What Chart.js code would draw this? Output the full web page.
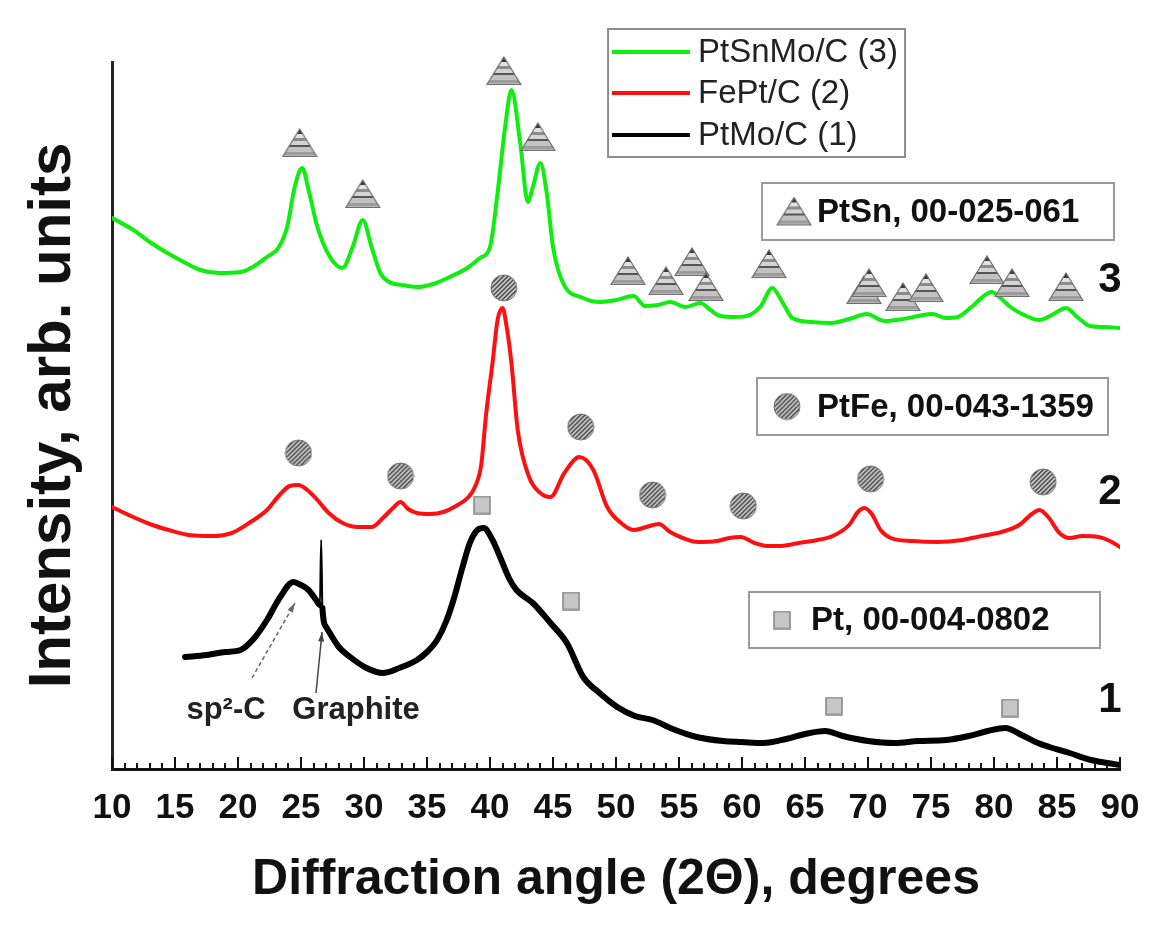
<!DOCTYPE html>
<html>
<head>
<meta charset="utf-8">
<script src="https://cdn.jsdelivr.net/npm/chart.js@4.4.1/dist/chart.umd.min.js"></script>
<style>
html,body{margin:0;padding:0;background:#fff;overflow:hidden}
#wrap{width:1168px;height:932px;position:relative}
</style>
</head>
<body>
<div id="wrap"><canvas id="chart"></canvas></div>
<script>
// ---------------- data ----------------
const X_TICKS = [10,15,20,25,30,35,40,45,50,55,60,65,70,75,80,85,90];
const X_TITLE = 'Diffraction angle (2\u0398), degrees';
const Y_TITLE = 'Intensity, arb. units';

const SERIES_NAMES = ['PtSnMo/C (3)', 'FePt/C (2)', 'PtMo/C (1)'];
const CURVE_TAGS = ['3', '2', '1'];
const PHASE_NAMES = ['PtSn, 00-025-061', 'PtFe, 00-043-1359', 'Pt, 00-004-0802'];
const NOTE_LABELS = ['sp\u00B2-C', 'Graphite'];

// curve 3 : PtSnMo/C
const ANGLE_3 = [10.0,11.7,13.0,14.4,15.7,17.0,18.5,20.2,21.3,22.3,23.2,23.9,24.5,25.1,25.6,26.3,27.3,28.3,29.1,29.9,30.6,31.3,32.0,33.0,34.2,35.5,36.8,38.2,39.2,40.0,40.6,41.2,41.7,42.4,43.0,43.4,44.0,44.5,45.0,45.8,47.4,48.7,50.0,51.4,52.3,53.3,54.3,55.5,56.7,57.5,58.3,59.5,60.6,61.5,62.4,63.2,64.0,65.5,67.1,68.5,69.9,71.3,72.8,74.0,75.1,76.2,77.1,78.3,79.8,80.6,81.3,82.4,83.6,84.6,85.7,86.7,87.6,88.8,90.0];
const INT_3 = [551,539,527,516,507,499,496,497,503,512,521,542,582,601,579,542,512,501,522,549,522,496,487,484,482,485,492,501,511,522,576,642,679,626,567,582,606,576,522,486,471,467,469,473,463,464,467,462,466,459,453,452,454,463,481,467,451,447,446,450,455,448,450,453,455,451,452,463,477,470,462,454,449,454,461,451,443,442,441];

// curve 2 : FePt/C
const ANGLE_2 = [10.0,11.5,13.0,14.5,16.1,18.0,19.5,21.0,22.3,23.3,24.1,24.8,25.5,26.3,27.2,28.3,29.5,30.6,31.5,32.3,32.9,33.5,34.2,35.3,36.3,37.3,38.3,38.8,39.3,39.7,40.2,40.6,41.0,41.3,41.7,42.2,43.1,44.0,44.8,45.9,47.1,48.2,49.3,50.4,51.4,52.4,53.4,54.3,55.3,56.5,58.0,59.0,59.9,61.0,62.0,63.0,64.5,66.0,67.2,68.5,69.2,69.7,70.3,71.0,71.8,73.5,75.5,77.5,79.0,80.6,82.0,83.0,83.6,84.3,85.2,86.0,87.0,88.3,89.2,90.0];
const INT_2 = [262,253,245,239,234,233,236,247,259,274,283,284,279,269,256,246,242,242,251,261,267,260,256,255,257,263,272,282,304,356,406,449,461,444,406,339,292,276,272,296,312,299,262,246,239,242,245,237,231,227,228,231,232,226,223,223,226,229,233,244,257,261,255,239,231,228,227,229,233,237,244,255,259,252,236,231,233,232,228,222];

// curve 1 : PtMo/C
const ANGLE_1 = [15.8,17.5,19.0,20.2,21.3,22.3,23.3,24.4,25.0,25.6,26.2,26.5,26.6,26.7,27.0,28.0,28.9,30.2,31.5,32.8,34.2,35.0,35.8,36.5,37.1,37.8,38.4,39.0,39.5,40.2,40.8,41.5,42.1,43.4,44.8,46.1,47.4,48.7,50.1,51.5,52.9,54.5,56.4,58.5,60.0,61.7,63.5,65.0,66.6,68.0,70.0,72.1,74.0,76.2,78.0,79.5,80.9,82.2,83.3,84.4,86.0,87.7,89.0,90.0];
const INT_1 = [112,114,117,119,131,149,171,187,184,179,169,164,229,161,142,122,112,101,96,101,109,117,129,147,169,201,226,239,241,229,212,191,179,166,146,126,92,76,62,53,49,40,32,28,27,26,30,35,38,33,28,26,28,29,33,38,41,34,27,22,16,9,6,4];
const GRAPHITE_ANGLE = 26.6;

// reference-pattern markers
const PTSN_ANGLE = [24.9,29.9,41.1,43.8,50.95,53.97,56.03,57.14,62.14,69.68,70.08,72.78,74.6,79.44,81.43,85.71];
const PTSN_INT   = [626,575,698,632,498,488,507,482,505,479,486,472,481,499,486,482];
const PTFE_ANGLE = [24.8,32.9,41.1,47.2,52.9,60.1,70.2,83.9];
const PTFE_INT   = [316,293,481,342,274,263,290,287];
const PT_ANGLE   = [39.37,46.43,67.3,81.27];
const PT_INT     = [264,168,63,61];

// ---------------- layout of overlay items (data coordinates) ----------------
const LEGEND_BOX = { x0: 49.37, x1: 72.94, yTop: 740, yBot: 612, lineX0: 49.68, lineX1: 55.87, textX: 56.51, rows: [717, 676, 634] };
const PHASE_BOXES = [
  { x0: 61.59, x1: 89.52, yTop: 586, yBot: 529, iconX: 64.13, textX: 65.95 },
  { x0: 61.19, x1: 89.05, yTop: 391, yBot: 334, iconX: 63.57, textX: 65.95 },
  { x0: 60.56, x1: 88.41, yTop: 177, yBot: 121, iconX: 63.17, textX: 65.48 }
];
const TAG_POS = [{ x: 89.2, y: 489 }, { x: 89.2, y: 277 }, { x: 89.2, y: 69 }];
const NOTES = [
  { from: [21.11, 91], to: [24.52, 166], dash: [4, 3], color: '#666', lx: 19.05, ly: 59 },
  { from: [26.19, 76], to: [26.67, 137], dash: [], color: '#444', lx: 29.37, ly: 59 }
];

// ---------------- marker glyphs ----------------
function makeTriangle(w, h) {
  const c = document.createElement('canvas'); c.width = w; c.height = h;
  const g = c.getContext('2d');
  g.beginPath(); g.moveTo(w / 2, 1); g.lineTo(w - 1, h - 1.5); g.lineTo(1, h - 1.5); g.closePath();
  const gr = g.createLinearGradient(0, 0, 0, h);
  [[0,'#3a3a3a'],[0.2,'#3a3a3a'],[0.2,'#e2e2e2'],[0.33,'#e2e2e2'],[0.33,'#8c8c8c'],[0.43,'#8c8c8c'],[0.43,'#d4d4d4'],[0.56,'#d4d4d4'],[0.56,'#555'],[0.63,'#555'],[0.63,'#c2c2c2'],[0.8,'#c2c2c2'],[0.8,'#9c9c9c'],[0.9,'#9c9c9c'],[0.9,'#b8b8b8'],[1,'#b8b8b8']]
    .forEach(([o, col]) => gr.addColorStop(o, col));
  g.fillStyle = gr; g.fill();
  g.strokeStyle = '#6e6e6e'; g.lineWidth = 1.2; g.stroke();
  return c;
}
function makeCircle(d) {
  const c = document.createElement('canvas'); c.width = d; c.height = d;
  const g = c.getContext('2d');
  g.beginPath(); g.arc(d / 2, d / 2, d / 2 - 1, 0, Math.PI * 2);
  g.fillStyle = '#474747'; g.fill();
  g.save(); g.clip();
  g.strokeStyle = '#cfcfcf'; g.lineWidth = 1.6;
  for (let k = -d; k < 2 * d; k += 4.5) { g.beginPath(); g.moveTo(k, d); g.lineTo(k + d, 0); g.stroke(); }
  g.restore();
  g.beginPath(); g.arc(d / 2, d / 2, d / 2 - 1, 0, Math.PI * 2);
  g.strokeStyle = '#777'; g.lineWidth = 1; g.stroke();
  return c;
}
function makeSquare(w, h) {
  const c = document.createElement('canvas'); c.width = w; c.height = h;
  const g = c.getContext('2d');
  g.fillStyle = '#c6c6c6'; g.fillRect(1, 1, w - 2, h - 2);
  g.strokeStyle = '#8a8a8a'; g.lineWidth = 1.6; g.strokeRect(1, 1, w - 2, h - 2);
  return c;
}
const TRI = makeTriangle(36, 30);
const CIR = makeCircle(28);
const SQR = makeSquare(18, 19);
const PHASE_ICONS = [TRI, CIR, SQR];

const pts = (xs, ys) => xs.map((v, i) => ({ x: v, y: ys[i] }));
const FONT = '"Liberation Sans", Arial, Helvetica, sans-serif';
Chart.defaults.font.family = FONT;

const SPIKE_INDEX = ANGLE_1.indexOf(GRAPHITE_ANGLE);

// ---------------- overlay plugin (inner ticks, legend, boxes, notes) ----------------
const overlayPlugin = {
  id: 'overlay',
  afterDraw(chart) {
    const { ctx, chartArea: ca, scales: { x, y } } = chart;
    const px = v => x.getPixelForValue(v), py = v => y.getPixelForValue(v);
    ctx.save();

    // inward minor/major ticks
    ctx.strokeStyle = '#111'; ctx.lineWidth = 2;
    for (let d = x.min; d <= x.max; d++) {
      const xx = Math.round(px(d));
      const len = d % 5 === 0 ? 12 : 6;
      ctx.beginPath(); ctx.moveTo(xx, ca.bottom); ctx.lineTo(xx, ca.bottom - len); ctx.stroke();
    }

    // legend
    const L = LEGEND_BOX;
    const lx0 = px(L.x0), lx1 = px(L.x1), ly0 = py(L.yTop), ly1 = py(L.yBot);
    ctx.fillStyle = '#fff'; ctx.fillRect(lx0, ly0, lx1 - lx0, ly1 - ly0);
    ctx.strokeStyle = '#8c8c8c'; ctx.lineWidth = 2; ctx.strokeRect(lx0, ly0, lx1 - lx0, ly1 - ly0);
    ctx.font = '33px ' + FONT; ctx.textBaseline = 'middle'; ctx.textAlign = 'left';
    chart.data.datasets.filter(d => d.isCurve).forEach((ds, i) => {
      const yy = py(L.rows[i]);
      ctx.strokeStyle = ds.borderColor; ctx.lineWidth = 4;
      ctx.beginPath(); ctx.moveTo(px(L.lineX0), yy); ctx.lineTo(px(L.lineX1), yy); ctx.stroke();
      ctx.fillStyle = '#222'; ctx.fillText(ds.label, px(L.textX), yy + 1);
    });

    // phase boxes
    PHASE_BOXES.forEach((b, i) => {
      const x0 = px(b.x0), x1 = px(b.x1), y0 = py(b.yTop), y1 = py(b.yBot), ym = (y0 + y1) / 2;
      ctx.fillStyle = '#fff'; ctx.fillRect(x0, y0, x1 - x0, y1 - y0);
      ctx.strokeStyle = '#9a9a9a'; ctx.lineWidth = 2; ctx.strokeRect(x0, y0, x1 - x0, y1 - y0);
      const ic = PHASE_ICONS[i];
      ctx.drawImage(ic, px(b.iconX) - ic.width / 2, ym - ic.height / 2);
      ctx.fillStyle = '#111'; ctx.font = 'bold 33px ' + FONT; ctx.textAlign = 'left'; ctx.textBaseline = 'middle';
      ctx.fillText(PHASE_NAMES[i], px(b.textX), ym + 1);
    });

    // curve tags
    ctx.font = 'bold 42px ' + FONT; ctx.textAlign = 'center'; ctx.textBaseline = 'middle'; ctx.fillStyle = '#111';
    TAG_POS.forEach((t, i) => ctx.fillText(CURVE_TAGS[i], px(t.x), py(t.y)));

    // notes with arrows
    NOTES.forEach((n, i) => {
      const x0 = px(n.from[0]), y0 = py(n.from[1]), x1 = px(n.to[0]), y1 = py(n.to[1]);
      ctx.strokeStyle = n.color; ctx.fillStyle = n.color; ctx.lineWidth = 1.5;
      ctx.setLineDash(n.dash);
      ctx.beginPath(); ctx.moveTo(x0, y0); ctx.lineTo(x1, y1); ctx.stroke();
      ctx.setLineDash([]);
      const a = Math.atan2(y1 - y0, x1 - x0), h = 10;
      ctx.beginPath(); ctx.moveTo(x1, y1);
      ctx.lineTo(x1 - h * Math.cos(a - 0.3), y1 - h * Math.sin(a - 0.3));
      ctx.lineTo(x1 - h * Math.cos(a + 0.3), y1 - h * Math.sin(a + 0.3));
      ctx.closePath(); ctx.fill();
      ctx.fillStyle = '#222'; ctx.font = 'bold 31px ' + FONT; ctx.textAlign = 'center'; ctx.textBaseline = 'middle';
      ctx.fillText(NOTE_LABELS[i], px(n.lx), py(n.ly));
    });
    ctx.restore();
  }
};

const curveCommon = { pointRadius: 0, pointHoverRadius: 0, fill: false, cubicInterpolationMode: 'monotone', borderJoinStyle: 'round', borderCapStyle: 'round', isCurve: true };
const markerCommon = { type: 'scatter', showLine: false, clip: false, order: 0 };

new Chart(document.getElementById('chart'), {
  type: 'line',
  data: {
    datasets: [
      Object.assign({ label: SERIES_NAMES[0], data: pts(ANGLE_3, INT_3), borderColor: '#10ee10', borderWidth: 4, order: 3 }, curveCommon),
      Object.assign({ label: SERIES_NAMES[1], data: pts(ANGLE_2, INT_2), borderColor: '#ff1010', borderWidth: 4, order: 2 }, curveCommon),
      Object.assign({ label: SERIES_NAMES[2], data: pts(ANGLE_1, INT_1), borderColor: '#000000', borderWidth: 6, order: 1,
        segment: { borderWidth: c => (c.p0DataIndex === SPIKE_INDEX - 1 || c.p0DataIndex === SPIKE_INDEX) ? 2 : undefined } }, curveCommon),
      Object.assign({ label: 'PtSn', data: pts(PTSN_ANGLE, PTSN_INT), pointStyle: TRI }, markerCommon),
      Object.assign({ label: 'PtFe', data: pts(PTFE_ANGLE, PTFE_INT), pointStyle: CIR }, markerCommon),
      Object.assign({ label: 'Pt', data: pts(PT_ANGLE, PT_INT), pointStyle: SQR }, markerCommon)
    ]
  },
  options: {
    animation: false,
    responsive: true,
    maintainAspectRatio: false,
    layout: { padding: { top: 62, right: 48, bottom: 22, left: 17 } },
    plugins: { legend: { display: false }, tooltip: { enabled: false } },
    events: [],
    scales: {
      x: {
        type: 'linear', position: 'bottom', min: 10, max: 90,
        grid: { display: false },
        border: { display: true, color: '#111', width: 3 },
        afterBuildTicks: s => { s.ticks = X_TICKS.map(v => ({ value: v })); },
        ticks: { autoSkip: false, maxRotation: 0, padding: 10, color: '#111', font: { size: 35, weight: 'bold' } },
        title: { display: true, text: X_TITLE, color: '#111', padding: 0, font: { size: 50, weight: 'bold' } },
        afterFit: s => { s.height = 141; }
      },
      y: {
        type: 'linear', min: 0, max: 707,
        grid: { display: false },
        border: { display: true, color: '#222', width: 3 },
        ticks: { display: false },
        title: { display: true, text: Y_TITLE, color: '#111', padding: 0, font: { size: 60, weight: 'bold' } },
        afterFit: s => { s.width = 95; }
      }
    }
  },
  plugins: [overlayPlugin]
});
</script>
</body>
</html>
